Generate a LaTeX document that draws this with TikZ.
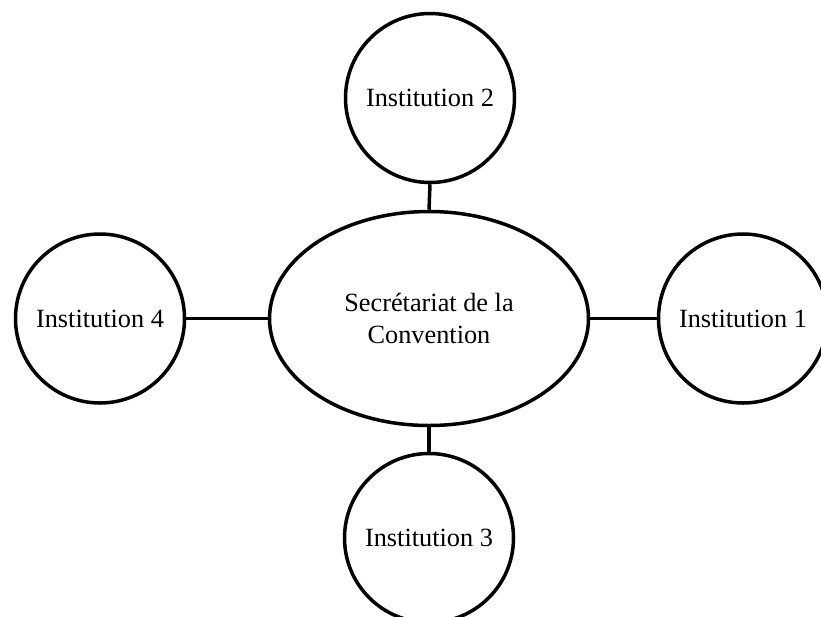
\documentclass[tikz,border=0pt]{standalone}
\usepackage{fontspec}
\setmainfont{Liberation Serif}
\usetikzlibrary{shapes.geometric}
\begin{document}
\begin{tikzpicture}[x=1pt,y=-1pt,
  inst/.style={circle,draw=black,line width=3.5pt,minimum size=169pt,inner sep=0pt,font=\fontsize{26.3}{31.6}\selectfont},
  sec/.style={ellipse,draw=black,line width=3.5pt,minimum width=319pt,minimum height=214pt,inner sep=0pt,align=center,font=\fontsize{26.3}{31.6}\selectfont},
  link/.style={draw=black,line width=3.5pt}]
\useasboundingbox (0,0) rectangle (821,616);
\clip (0,0) rectangle (821,616);
\fill[white] (0,0) rectangle (821,616);
\node[sec] (s) at (429,318.5) {Secrétariat de la\\Convention};
\node[inst] (i2) at (430,98) {Institution 2};
\node[inst] (i4) at (100,318.5) {Institution 4};
\node[inst] (i1) at (743,318.5) {Institution 1};
\node[inst] (i3) at (429,538) {Institution 3};
\draw[link] (s.north) -- (i2.south);
\draw[link] (s.west) -- (i4.east);
\draw[link] (s.east) -- (i1.west);
\draw[link] (s.south) -- (i3.north);
\end{tikzpicture}
\end{document}
